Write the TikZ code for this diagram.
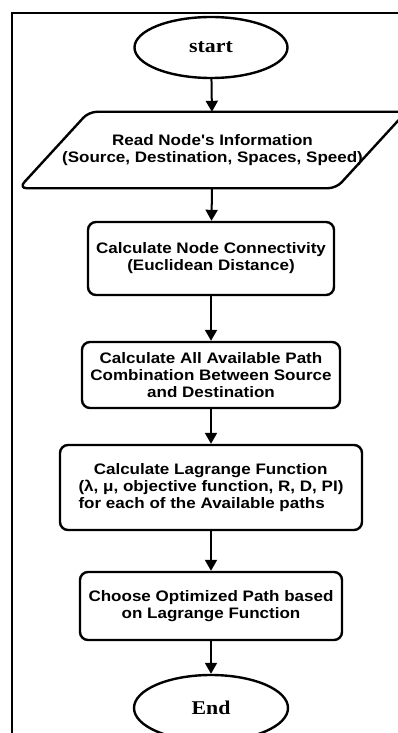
\documentclass[tikz,border=0pt]{standalone}
\usepackage{fontspec}
\usetikzlibrary{shapes.geometric,arrows.meta}
\newfontfamily\boxfont[FakeStretch=1.12]{Liberation Sans Bold}
\newfontfamily\termfont[FakeStretch=1.12]{Liberation Serif Bold}
\begin{document}
\begin{tikzpicture}[x=1pt,y=-1pt,
		term/.style={ellipse,draw,line width=2.4pt,font=\termfont\fontsize{19.5}{22}\selectfont},
		procbox/.style={rectangle,rounded corners=8pt,draw,line width=2.4pt,align=center,font=\boxfont\fontsize{15.2}{17}\selectfont},
		flow/.style={line width=2pt,-{Triangle[length=11pt,width=12pt]}}]
			\useasboundingbox (0,0) rectangle (398,733);
			\draw [line width=2pt] (11.5,745) |- (410,13.5);
			\node[term,minimum width=153,minimum height=61] (start) at (211,47.5) {start};
			\node[procbox,draw=none,minimum width=315,minimum height=74] (read) at (212.5,150) {Read Node's Information\\(Source, Destination, Spaces, Speed)};
			\draw [line width=2.4pt,rounded corners=8pt] ([xshift=35]read.north west) -- ([xshift=35]read.north east) -- ([xshift=-35]read.south east) -- ([xshift=-35]read.south west) -- cycle;
			\node[procbox,minimum width=246,minimum height=73] (conn) at (211,258.5) {Calculate Node Connectivity\\(Euclidean Distance)};
			\node[procbox,minimum width=258,minimum height=66] (comb) at (211,375) {Calculate All Available Path\\Combination Between Source\\and Destination};
			\node[procbox,minimum width=302,minimum height=85,align=left] (lagr) at (211,487.5) {\hspace*{1em}Calculate Lagrange Function\\(λ, μ, objective function, R, D, PI)\\for each of the Available paths};
			\node[procbox,minimum width=262,minimum height=68] (choose) at (211,606) {Choose Optimized Path based\\on Lagrange Function};
			\node[term,minimum width=154,minimum height=66] (end) at (211,708) {End};
			\draw[flow] (start) -- (read);
			\draw[flow] (read) -- (conn);
			\draw[flow] (conn) -- (comb);
			\draw[flow] (comb) -- (lagr);
			\draw[flow] (lagr) -- (choose);
			\draw[flow] (choose) -- (end);
		\end{tikzpicture}
\end{document}
